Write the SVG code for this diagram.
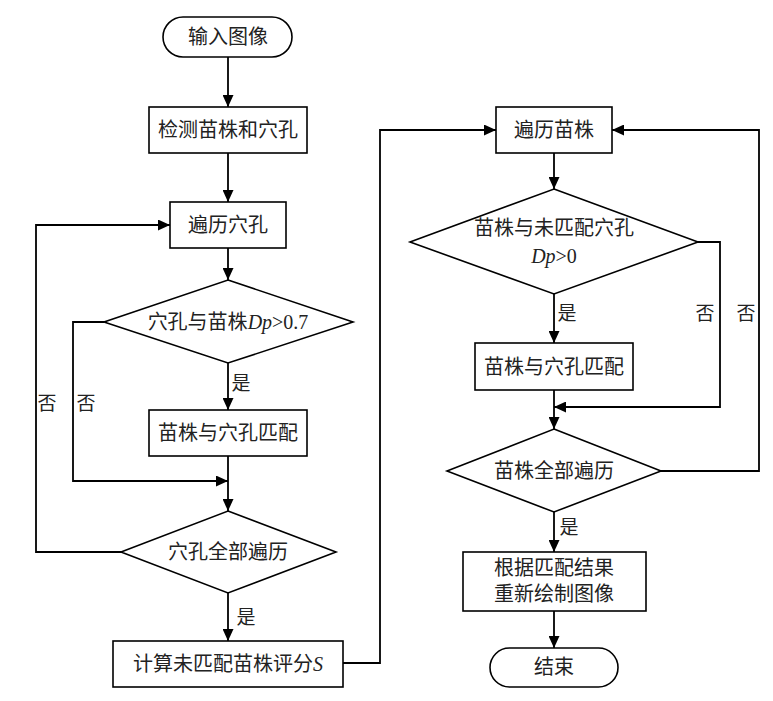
<svg xmlns="http://www.w3.org/2000/svg" width="773" height="701" viewBox="0 0 773 701">
<defs>
<marker id="arr" markerUnits="userSpaceOnUse" markerWidth="12" markerHeight="11" refX="12" refY="5.5" orient="auto">
<path d="M0,0 L12,5.5 L0,11 Z" fill="#000"/>
</marker>
</defs>
<style>
.s{fill:#fff;stroke:#000;stroke-width:1.6}
.c{fill:none;stroke:#000;stroke-width:1.8}
.t{font-family:"Liberation Serif","Noto Sans CJK SC",serif;font-size:20px;fill:#222;text-anchor:middle;dominant-baseline:central}
.l{font-family:"Liberation Serif","Noto Sans CJK SC",serif;font-size:19px;fill:#222;text-anchor:middle;dominant-baseline:central}
.i{font-style:italic}
</style>
<rect width="773" height="701" fill="#fff"/>
<g id="connectors">
<path class="c" d="M228,57 V107" marker-end="url(#arr)"/>
<path class="c" d="M228,153 V202" marker-end="url(#arr)"/>
<path class="c" d="M228,248 V280" marker-end="url(#arr)"/>
<path class="c" d="M228,363 V410" marker-end="url(#arr)"/>
<path class="c" d="M104,322 H73 V481 H228" marker-end="url(#arr)"/>
<path class="c" d="M228,456 V511" marker-end="url(#arr)"/>
<path class="c" d="M121,552 H36 V225 H170" marker-end="url(#arr)"/>
<path class="c" d="M228,593 V641" marker-end="url(#arr)"/>
<path class="c" d="M343,663 H380 V130 H496" marker-end="url(#arr)"/>
<path class="c" d="M554,153 V189" marker-end="url(#arr)"/>
<path class="c" d="M554,294 V343" marker-end="url(#arr)"/>
<path class="c" d="M698,242 H720 V407 H554" marker-end="url(#arr)"/>
<path class="c" d="M554,390 V429" marker-end="url(#arr)"/>
<path class="c" d="M661,471 H759 V130 H612" marker-end="url(#arr)"/>
<path class="c" d="M554,512 V552" marker-end="url(#arr)"/>
<path class="c" d="M554,611 V648" marker-end="url(#arr)"/>
<text class="l" x="241" y="383">是</text>
<text class="l" x="47" y="403">否</text>
<text class="l" x="86" y="403">否</text>
<text class="l" x="246" y="617">是</text>
<text class="l" x="567" y="313">是</text>
<text class="l" x="705" y="313">否</text>
<text class="l" x="746" y="313">否</text>
<text class="l" x="569" y="527">是</text>
</g>
<g id="start">
<rect class="s" x="163" y="17" width="129" height="40" rx="20"/>
<text class="t" x="228" y="37">输入图像</text>
</g>
<g id="detect">
<rect class="s" x="149" y="107" width="158" height="46"/>
<text class="t" x="228" y="130">检测苗株和穴孔</text>
</g>
<g id="loopHoles">
<rect class="s" x="170" y="202" width="116" height="46"/>
<text class="t" x="228" y="225">遍历穴孔</text>
</g>
<g id="dec1">
<polygon class="s" points="228,280 353,322 228,363 104,322"/>
<text class="t" x="228" y="322">穴孔与苗株<tspan class="i">Dp</tspan>&gt;0.7</text>
</g>
<g id="match1">
<rect class="s" x="149" y="410" width="158" height="46"/>
<text class="t" x="228" y="433">苗株与穴孔匹配</text>
</g>
<g id="dec2">
<polygon class="s" points="228,511 336,552 228,593 121,552"/>
<text class="t" x="228" y="552">穴孔全部遍历</text>
</g>
<g id="score">
<rect class="s" x="113" y="641" width="230" height="46"/>
<text class="t" x="228" y="664">计算未匹配苗株评分<tspan class="i">S</tspan></text>
</g>
<g id="loopPlants">
<rect class="s" x="496" y="107" width="116" height="46"/>
<text class="t" x="554" y="130">遍历苗株</text>
</g>
<g id="dec3">
<polygon class="s" points="554,189 698,242 554,294 410,242"/>
<text class="t" x="554" y="228">苗株与未匹配穴孔</text>
<text class="t" x="554" y="256"><tspan class="i">Dp</tspan>&gt;0</text>
</g>
<g id="match2">
<rect class="s" x="475" y="343" width="158" height="47"/>
<text class="t" x="554" y="367">苗株与穴孔匹配</text>
</g>
<g id="dec4">
<polygon class="s" points="554,429 661,471 554,512 447,471"/>
<text class="t" x="554" y="471">苗株全部遍历</text>
</g>
<g id="redraw">
<rect class="s" x="463" y="552" width="183" height="59"/>
<text class="t" x="554" y="568">根据匹配结果</text>
<text class="t" x="554" y="594">重新绘制图像</text>
</g>
<g id="end">
<rect class="s" x="490" y="648" width="128" height="39" rx="19.5"/>
<text class="t" x="554" y="667">结束</text>
</g>
</svg>
